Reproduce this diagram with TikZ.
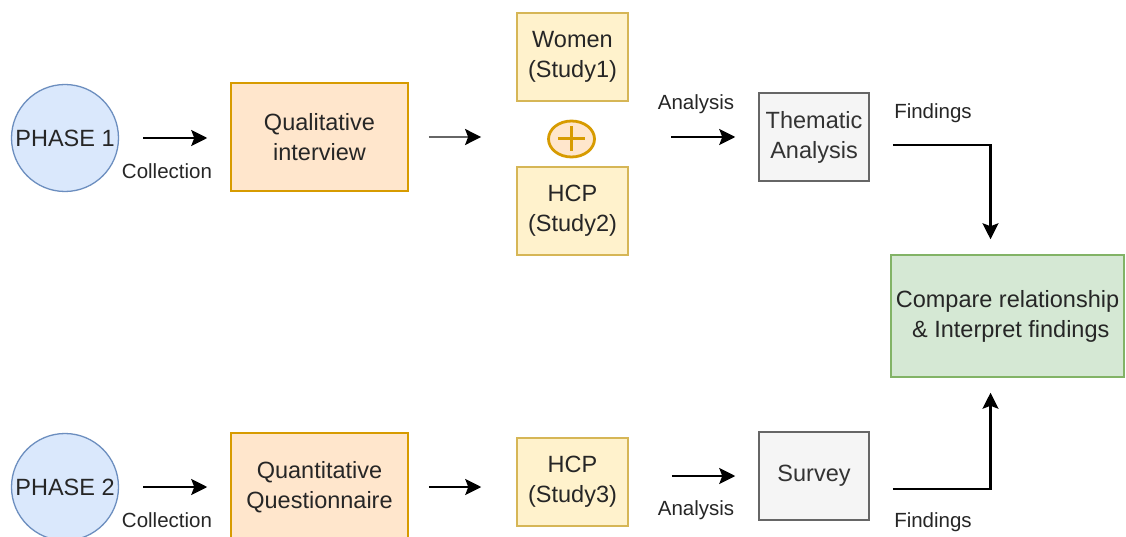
\documentclass[tikz,border=0pt]{standalone}
\usepackage{fontspec}
\setmainfont{Liberation Sans}
\usetikzlibrary{arrows.meta,calc,shapes.geometric}

\definecolor{bluefill}{HTML}{DAE8FC}
\definecolor{blueline}{HTML}{6C8EBF}
\definecolor{orangefill}{HTML}{FFE6CC}
\definecolor{orangeline}{HTML}{D79B00}
\definecolor{yellowfill}{HTML}{FFF2CC}
\definecolor{yellowline}{HTML}{D6B656}
\definecolor{greyfill}{HTML}{F5F5F5}
\definecolor{greyline}{HTML}{666666}
\definecolor{greytext}{HTML}{333333}
\definecolor{greenfill}{HTML}{D5E8D4}
\definecolor{greenline}{HTML}{82B366}

\tikzset{
  maintext/.style={font=\fontsize{23.5}{30}\selectfont, text=black!85},
  phase/.style={circle, draw=blueline, fill=bluefill, line width=1.3pt,
    minimum size=107pt, inner sep=0pt, maintext},
  box/.style={rectangle, line width=1.5pt, inner sep=0pt, align=center, maintext},
  collect/.style={box, draw=orangeline, fill=orangefill, minimum width=177pt, minimum height=108pt},
  study/.style={box, draw=yellowline, fill=yellowfill, minimum width=111pt, minimum height=88pt},
  method/.style={box, draw=greyline, fill=greyfill, text=greytext, minimum width=110pt, minimum height=88pt},
  result/.style={box, draw=greenline, fill=greenfill, minimum width=233pt, minimum height=122pt},
  lbl/.style={font=\fontsize{20.5}{24}\selectfont, text=black!85, inner sep=0pt},
  arr/.style={line width=2.2pt, draw=black,
    -{Stealth[length=16pt,width=16pt,inset=3pt,color=black]}},
}

\begin{document}
\begin{tikzpicture}[x=1pt,y=-1pt]
\useasboundingbox (0,0) rectangle (1126,537);
\fill[white] (0,0) rectangle (1126,537);
\clip (0,0) rectangle (1126,537);

% ---- phase 1 ----
\node[phase] (p1) at (65,138) {PHASE 1};
\node[collect] (qual) at (319.5,137) {Qualitative\\interview};
\node[study] (women) at (572.5,57) {Women\\(Study1)};
\node[ellipse, draw=orangeline, fill=orangefill, line width=2.8pt,
      minimum width=46pt, minimum height=36pt, inner sep=0pt] (plus) at (571.5,139) {};
\draw[orangeline, line width=3pt] ($(plus.center)+(0,-12.5)$) -- ($(plus.center)+(0,12.5)$)
      ($(plus.center)+(-13.5,0)$) -- ($(plus.center)+(13.5,0)$);
\node[study] (hcp2) at (572.5,211) {HCP\\(Study2)};
\node[method] (them) at (814,137) {Thematic\\Analysis};

% ---- comparison ----
\node[result] (cmp) at (1007.5,316) {Compare relationship\\\ \& Interpret findings};

% ---- phase 2 ----
\node[phase] (p2) at (65,487) {PHASE 2};
\node[collect] (quant) at (319.5,487) {Quantitative\\Questionnaire};
\node[study] (hcp3) at (572.5,482) {HCP\\(Study3)};
\node[method] (survey) at (814,476) {Survey};

% ---- connectors, phase 1 ----
\draw[arr, shorten <=24pt, shorten >=23pt] (p1.east) -- (p1.east -| qual.west);
\node[lbl] (col1) at (167,171) {Collection};
\draw[arr, draw=black!60, shorten <=20pt, shorten >=66pt] (qual.east) -- (qual.east -| plus.west);
\draw[arr, shorten <=75.5pt, shorten >=23pt] (them.west -| plus.east) -- (them.west);
\node[lbl] (ana1) at (696,104) {Analysis};
\coordinate (f1) at ($(them.east)+(23,8)$);
\draw[arr, shorten >=15pt] (f1) -| ($(cmp.north)+(-17,0)$);
\node[lbl] (fin1) at (933,113) {Findings};

% ---- connectors, phase 2 ----
\draw[arr, shorten <=24pt, shorten >=23pt] (p2.east) -- (p2.east -| quant.west);
\node[lbl] (col2) at (167,520) {Collection};
\draw[arr, shorten <=20pt, shorten >=35pt] (quant.east) -- (quant.east -| hcp3.west);
\draw[arr, shorten <=43pt, shorten >=23pt] (survey.west -| hcp3.east) -- (survey.west);
\node[lbl] (ana2) at (696,510) {Analysis};
\coordinate (f2) at ($(survey.east)+(23,13)$);
\draw[arr, shorten >=15pt] (f2) -| ($(cmp.south)+(-17,0)$);
\node[lbl] (fin2) at (933,522) {Findings};
\end{tikzpicture}
\end{document}
